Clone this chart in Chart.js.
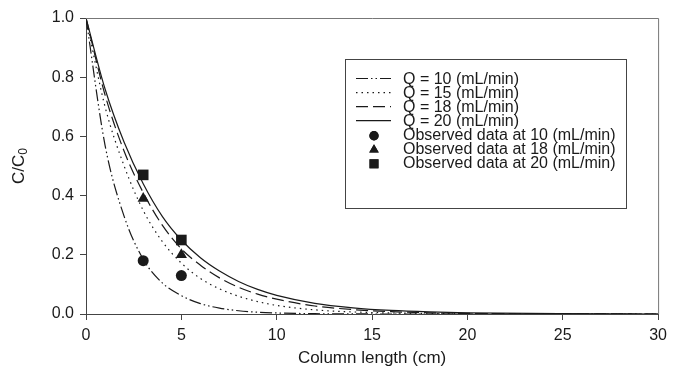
<!DOCTYPE html>
<html>
<head>
<meta charset="utf-8">
<script src="https://cdn.jsdelivr.net/npm/chart.js@4/dist/chart.umd.min.js"></script>
<style>
  html, body { margin: 0; padding: 0; background: #fff; }
  #wrap { width: 673px; height: 374px; }
</style>
</head>
<body>
<div id="wrap"><canvas id="chart" width="673" height="374"></canvas></div>
<script>
// column length (cm) where the model curves were read
const lengths = [0, 1, 2, 3, 4, 5, 6, 7, 8, 9, 10, 12, 14, 16, 18, 20, 25, 30]

// model curves C/C0
const q10 = [1.0, 0.57, 0.33, 0.185, 0.105, 0.062, 0.035, 0.02, 0.011, 0.006, 0.0035, 0.001, 0.0003, 0, 0, 0, 0, 0]
const q15 = [1.0, 0.70, 0.50, 0.35, 0.245, 0.172, 0.12, 0.085, 0.06, 0.042, 0.029, 0.014, 0.007, 0.0035, 0.0017, 0.0008, 0.0001, 0]
const q18 = [1.0, 0.74, 0.55, 0.41, 0.30, 0.22, 0.165, 0.122, 0.09, 0.067, 0.05, 0.027, 0.015, 0.008, 0.004, 0.002, 0.0005, 0]
const q20 = [1.0, 0.76, 0.58, 0.44, 0.33, 0.25, 0.19, 0.145, 0.11, 0.083, 0.063, 0.036, 0.021, 0.012, 0.007, 0.004, 0.001, 0]

// observed points
const obsX = [3, 5]
const obs10 = [0.18, 0.13]
const obs18 = [0.39, 0.20]
const obs20 = [0.47, 0.25]

const xTicks = [0, 5, 10, 15, 20, 25, 30]
const yTicks = [0, 0.2, 0.4, 0.6, 0.8, 1.0]

const FONT = 'Liberation Sans, Arial, Helvetica, sans-serif'
const INK = '#1a1a1a'

function pts(xs, ys) {
    return xs.map((x, i) => ({x: x, y: ys[i]}))
}

function curve(label, ys, dash) {
    return {
        type: 'line',
        label: label,
        data: pts(lengths, ys),
        borderColor: INK,
        borderWidth: 1.2,
        borderDash: dash,
        pointRadius: 0,
        cubicInterpolationMode: 'monotone',
        fill: false
    }
}

function observed(label, ys, style, r) {
    return {
        type: 'scatter',
        label: label,
        data: pts(obsX, ys),
        pointStyle: style,
        pointRadius: r,
        backgroundColor: INK,
        borderColor: INK,
        borderWidth: 0
    }
}

// frame, axis titles and the boxed legend inside the plot
const decor = {
    id: 'decor',
    afterDraw(chart) {
        const ctx = chart.ctx
        const a = chart.chartArea
        ctx.save()
        ctx.strokeStyle = '#777'
        ctx.lineWidth = 1
        ctx.beginPath()
        ctx.moveTo(a.left, a.top + 0.5)
        ctx.lineTo(a.right + 0.5, a.top + 0.5)
        ctx.lineTo(a.right + 0.5, a.bottom)
        ctx.stroke()

        // x title
        ctx.fillStyle = INK
        ctx.font = '17px ' + FONT
        ctx.textAlign = 'center'
        ctx.textBaseline = 'middle'
        ctx.fillText('Column length (cm)', (a.left + a.right) / 2, 358)

        // y title with subscript
        ctx.save()
        ctx.translate(19, 166)
        ctx.rotate(-Math.PI / 2)
        ctx.font = '17px ' + FONT
        const main = 'C/C'
        const w1 = ctx.measureText(main).width
        ctx.font = '12px ' + FONT
        const w2 = ctx.measureText('0').width
        const start = -(w1 + w2) / 2
        ctx.textAlign = 'left'
        ctx.font = '17px ' + FONT
        ctx.fillText(main, start, 0)
        ctx.font = '12px ' + FONT
        ctx.fillText('0', start + w1, 5)
        ctx.restore()

        // legend
        const box = {x: 345.5, y: 59.5, w: 281, h: 149}
        ctx.strokeStyle = '#444'
        ctx.strokeRect(box.x, box.y, box.w, box.h)
        ctx.font = '16px ' + FONT
        ctx.textAlign = 'left'
        ctx.textBaseline = 'middle'
        chart.data.datasets.forEach((ds, i) => {
            const y = 78.5 + i * 14.05
            if (ds.type === 'line') {
                ctx.save()
                ctx.strokeStyle = INK
                ctx.lineWidth = 1.2
                ctx.setLineDash(ds.borderDash || [])
                ctx.beginPath()
                ctx.moveTo(356, y)
                ctx.lineTo(391, y)
                ctx.stroke()
                ctx.restore()
            } else {
                Chart.helpers.drawPoint(ctx, {
                    pointStyle: ds.pointStyle,
                    radius: ds.pointRadius * 0.85,
                    borderWidth: 0
                }, 374, y + 1)
                ctx.fillStyle = INK
                ctx.fill()
            }
            ctx.fillStyle = INK
            ctx.fillText(ds.label, 403, y + 1)
        })
        ctx.restore()
    }
}

const ctx = document.getElementById('chart').getContext('2d')
const chart = new Chart(ctx, {
    data: {
        datasets: [
            curve('Q = 10 (mL/min)', q10, [12, 3, 1.5, 3, 1.5, 3]),
            curve('Q = 15 (mL/min)', q15, [1.5, 4]),
            curve('Q = 18 (mL/min)', q18, [12, 5]),
            curve('Q = 20 (mL/min)', q20, []),
            observed('Observed data at 10 (mL/min)', obs10, 'circle', 5.5),
            observed('Observed data at 18 (mL/min)', obs18, 'triangle', 6.5),
            observed('Observed data at 20 (mL/min)', obs20, 'rect', 7.5)
        ]
    },
    options: {
        responsive: false,
        animation: false,
        layout: {padding: {left: 0, top: 18, right: 10, bottom: 0}},
        plugins: {
            legend: {display: false},
            tooltip: {enabled: false}
        },
        scales: {
            x: {
                type: 'linear',
                min: 0,
                max: 30,
                afterBuildTicks: s => { s.ticks = xTicks.map(v => ({value: v})) },
                afterFit: s => { s.height = 60 },
                grid: {drawOnChartArea: false, tickLength: 6, color: '#444'},
                border: {color: '#444', width: 1},
                ticks: {
                    color: INK,
                    font: {family: FONT, size: 16},
                    padding: 6,
                    maxRotation: 0,
                    callback: v => v
                }
            },
            y: {
                type: 'linear',
                min: 0,
                max: 1,
                afterBuildTicks: s => { s.ticks = yTicks.map(v => ({value: v})) },
                afterFit: s => { s.width = 86 },
                grid: {drawOnChartArea: false, tickLength: 6, color: '#444'},
                border: {color: '#444', width: 1},
                ticks: {
                    color: INK,
                    font: {family: FONT, size: 16},
                    padding: 6,
                    callback: v => v.toFixed(1)
                }
            }
        }
    },
    plugins: [decor]
})
</script>
</body>
</html>
